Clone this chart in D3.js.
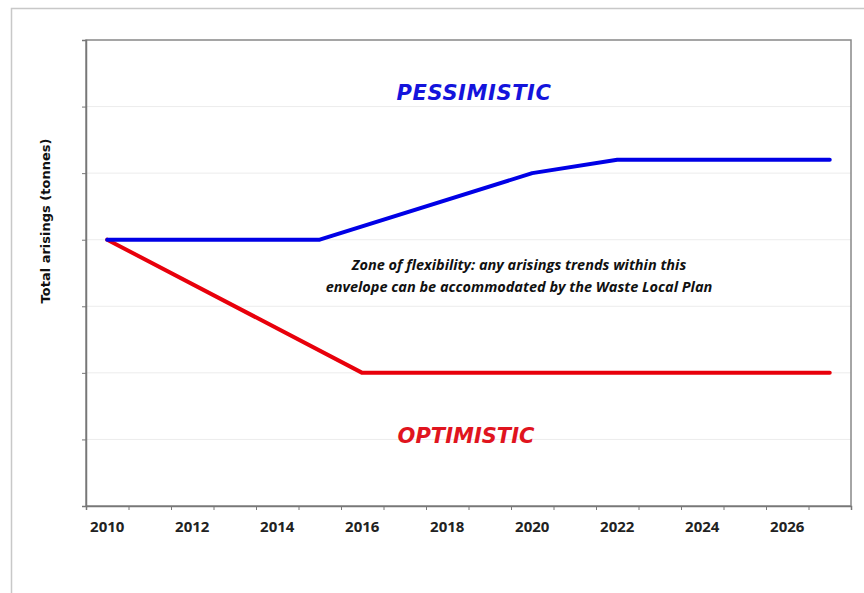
<!DOCTYPE html>
<html>
<head>
  <meta charset="utf-8"/>
  <title>Waste arisings envelope</title>
  <script src="https://cdn.jsdelivr.net/npm/d3@7"></script>
<style>
body { margin: 0; background: #fff; }
.chart text { font-family: "DejaVu Sans", Verdana, sans-serif; }
.chart text.os { font-family: "Open Sans", "DejaVu Sans", sans-serif; }
.axis path, .axis line { stroke: #777; }
</style>
</head>
<body>
  <svg id="chart" class="chart"></svg>
  <script>
    // years on the x axis (one band per year), labels every other year
    var years = d3.range(2010, 2028);
    var yearLabels = [2010, 2012, 2014, 2016, 2018, 2020, 2022, 2024, 2026];

    // y has no labelled values, just 7 even steps
    var yTicks = [0, 1, 2, 3, 4, 5, 6, 7];

    var pessimisticYears = [2010, 2015, 2020, 2022, 2027];
    var pessimisticValues = [4, 4, 5, 5.2, 5.2];

    var optimisticYears = [2010, 2016, 2027];
    var optimisticValues = [4, 2, 2];

    var width = 864, height = 593;
    var margin = {top: 40, right: 13, bottom: 87, left: 86};

    var svg = d3.select("#chart")
        .attr("width", width)
        .attr("height", height);

    // outer frame
    svg.append("rect")
        .attr("x", 11.5).attr("y", 8.5)
        .attr("width", width).attr("height", height)
        .attr("fill", "none")
        .attr("stroke", "#c8c8c8")
        .attr("stroke-width", 1.5);

    var x = d3.scaleBand()
        .domain(years)
        .range([margin.left, width - margin.right]);

    var y = d3.scaleLinear()
        .domain([0, 7])
        .range([height - margin.bottom, margin.top]);

    var cx = function(yr) { return x(yr) + x.bandwidth() / 2; };

    // faint gridlines
    svg.append("g")
        .selectAll("line")
        .data(yTicks.slice(1, -1))
        .enter().append("line")
        .attr("x1", margin.left).attr("x2", width - margin.right)
        .attr("y1", function(d) { return y(d); })
        .attr("y2", function(d) { return y(d); })
        .attr("stroke", "#ececec");

    // plot frame (top / right)
    svg.append("rect")
        .attr("x", margin.left).attr("y", margin.top)
        .attr("width", width - margin.right - margin.left)
        .attr("height", height - margin.bottom - margin.top)
        .attr("fill", "none")
        .attr("stroke", "#888")
        .attr("stroke-width", 1.5);

    // y axis: ticks only
    svg.append("g")
        .attr("class", "axis")
        .attr("transform", "translate(" + margin.left + ",0)")
        .call(d3.axisLeft(y).tickValues(yTicks).tickSize(4).tickFormat(""))
        .call(function(g) { g.select(".domain").attr("stroke-width", 1.5); });

    // x axis: ticks on band edges, labels at band centres
    var xEdge = d3.scaleLinear()
        .domain([0, years.length])
        .range([margin.left, width - margin.right]);

    var xAxis = svg.append("g")
        .attr("class", "axis")
        .attr("transform", "translate(0," + (height - margin.bottom) + ")")
        .call(d3.axisBottom(xEdge).tickValues(d3.range(0, years.length + 1)).tickSize(4).tickFormat(""));
    xAxis.select(".domain").attr("stroke-width", 1.5);

    svg.append("g")
        .selectAll("text")
        .data(yearLabels)
        .enter().append("text")
        .attr("class", "os")
        .attr("x", function(d) { return cx(d); })
        .attr("y", height - margin.bottom + 26)
        .attr("text-anchor", "middle")
        .attr("font-size", 15)
        .attr("font-weight", "bold")
        .attr("fill", "#222")
        .text(function(d) { return d; });

    // y title
    svg.append("text")
        .attr("transform", "translate(50,221) rotate(-90)")
        .attr("text-anchor", "middle")
        .attr("font-size", 13)
        .attr("font-weight", "bold")
        .attr("fill", "#111")
        .text("Total arisings (tonnes)");

    var line = d3.line()
        .x(function(d) { return cx(d[0]); })
        .y(function(d) { return y(d[1]); });

    svg.append("path")
        .datum(d3.zip(optimisticYears, optimisticValues))
        .attr("d", line)
        .attr("fill", "none")
        .attr("stroke", "#e8000b")
        .attr("stroke-width", 4)
        .attr("stroke-linecap", "round")
        .attr("stroke-linejoin", "round");

    svg.append("path")
        .datum(d3.zip(pessimisticYears, pessimisticValues))
        .attr("d", line)
        .attr("fill", "none")
        .attr("stroke", "#0000e6")
        .attr("stroke-width", 4)
        .attr("stroke-linecap", "round")
        .attr("stroke-linejoin", "round");

    // labels
    svg.append("text")
        .attr("x", 474).attr("y", 100)
        .attr("text-anchor", "middle")
        .attr("font-size", 21)
        .attr("font-weight", "bold")
        .attr("font-style", "italic")
        .attr("letter-spacing", 0.6)
        .attr("fill", "#1414dc")
        .text("PESSIMISTIC");

    svg.append("text")
        .attr("x", 466).attr("y", 443)
        .attr("text-anchor", "middle")
        .attr("font-size", 21)
        .attr("font-weight", "bold")
        .attr("font-style", "italic")
        .attr("fill", "#e0141e")
        .text("OPTIMISTIC");

    var note = svg.append("text")
        .attr("class", "os")
        .attr("text-anchor", "middle")
        .attr("font-size", 14.5)
        .attr("font-weight", "bold")
        .attr("font-style", "italic")
        .attr("fill", "#111");
    note.append("tspan").attr("x", 519).attr("y", 270)
        .text("Zone of flexibility: any arisings trends within this");
    note.append("tspan").attr("x", 519).attr("y", 292)
        .text("envelope can be accommodated by the Waste Local Plan");
  </script>
</body>
</html>
